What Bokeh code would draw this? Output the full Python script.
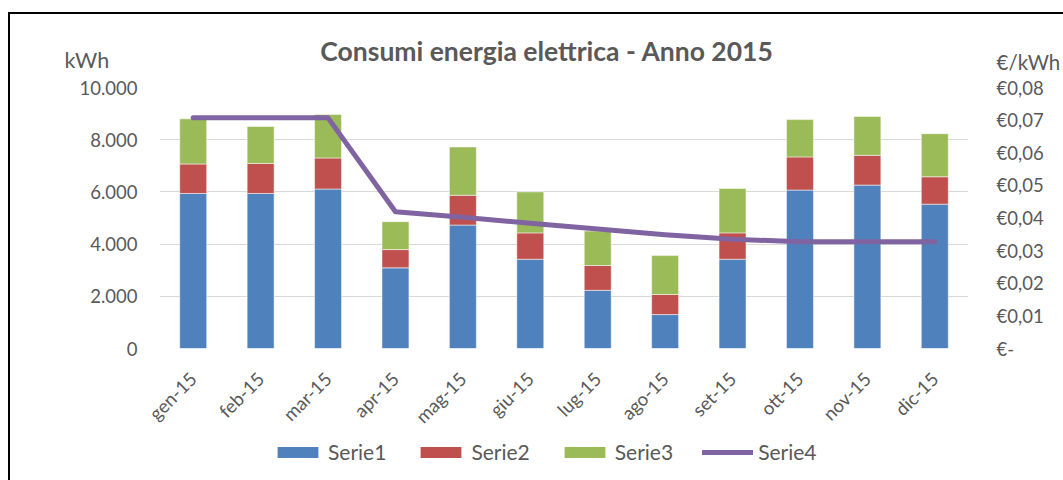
import math
from bokeh.plotting import figure
from bokeh.layouts import column
from bokeh.models import (ColumnDataSource, FactorRange, Range1d, LinearAxis, FixedTicker,
                          Legend, LegendItem, Label)
from bokeh.embed import file_html
from bokeh.resources import INLINE

months = ["gen-15", "feb-15", "mar-15", "apr-15", "mag-15", "giu-15",
          "lug-15", "ago-15", "set-15", "ott-15", "nov-15", "dic-15"]
serie1 = [5940, 5940, 6110, 3090, 4730, 3420, 2230, 1300, 3420, 6070, 6260, 5530]
serie2 = [1130, 1150, 1190, 700, 1140, 1010, 950, 770, 1010, 1270, 1140, 1050]
serie3 = [1730, 1420, 1670, 1070, 1850, 1570, 1320, 1490, 1700, 1430, 1490, 1650]
serie4 = [0.0707, 0.0707, 0.0707, 0.0419, 0.0402, 0.0384, 0.0366, 0.0349, 0.0335,
          0.0327, 0.0327, 0.0327]

left_ticks = [0, 2000, 4000, 6000, 8000, 10000]
left_tick_labels = ["0", "2.000", "4.000", "6.000", "8.000", "10.000"]
right_ticks = [0, 0.01, 0.02, 0.03, 0.04, 0.05, 0.06, 0.07, 0.08]
right_tick_labels = ["€-", "€0,01", "€0,02", "€0,03", "€0,04", "€0,05", "€0,06", "€0,07", "€0,08"]

title_text = "Consumi energia elettrica - Anno 2015"
left_unit = "kWh"
right_unit = "€/kWh"
series_names = ["Serie1", "Serie2", "Serie3", "Serie4"]
colors = ["#4F81BD", "#C0504D", "#9BBB59", "#8064A2"]

FONT = "Lato"
TXT = "#595959"

W = 1053
H_TOP, H_MAIN, H_LEG = 61, 363, 42


def no_align(f):
    try:
        f.frame_align = False
    except Exception:
        pass


def blank(h, **kw):
    f = figure(width=h[0], height=h[1], output_backend="svg", toolbar_location=None,
               title=None, x_axis_type=None, y_axis_type=None,
               min_border=0, min_border_left=0, min_border_right=0,
               min_border_top=0, min_border_bottom=0, **kw)
    f.grid.visible = False
    f.outline_line_color = None
    f.background_fill_color = "white"
    f.border_fill_color = "white"
    no_align(f)
    return f


src = ColumnDataSource(dict(months=months, s1=serie1, s2=serie2, s3=serie3, s4=serie4))

# ---------- top band: title and unit labels ----------
top = blank((W, H_TOP), x_range=Range1d(0, 1), y_range=Range1d(0, 1))
top.add_layout(Label(x=536.5, y=25, x_units="screen", y_units="screen", text=title_text,
                     text_font=FONT, text_font_style="bold", text_font_size="26.5px",
                     text_color=TXT, text_align="center", text_baseline="alphabetic"))
top.add_layout(Label(x=54, y=16, x_units="screen", y_units="screen", text=left_unit,
                     text_font=FONT, text_font_size="21.5px", text_color=TXT,
                     text_align="left", text_baseline="alphabetic"))
top.add_layout(Label(x=986, y=14, x_units="screen", y_units="screen", text=right_unit,
                     text_font=FONT, text_font_size="20.5px", text_color=TXT,
                     text_align="left", text_baseline="alphabetic"))

# ---------- main chart ----------
p = figure(x_range=FactorRange(*months), y_range=Range1d(0, 10000),
           width=W, height=H_MAIN, output_backend="svg", toolbar_location=None, title=None,
           min_border_left=149, min_border_right=95, min_border_top=12, min_border_bottom=89)
no_align(p)
p.extra_y_ranges = {"eur": Range1d(0, 0.08)}
p.outline_line_color = None
p.background_fill_color = "white"
p.border_fill_color = "white"

bars = p.vbar_stack(["s1", "s2", "s3"], x="months", width=0.4, color=colors[:3],
                    source=src, line_color="white", line_width=1, line_alpha=0.5)
ln = p.line(x="months", y="s4", source=src, y_range_name="eur", line_color=colors[3],
            line_width=5, line_join="round", line_cap="round")

ly = p.yaxis[0]
ly.ticker = FixedTicker(ticks=left_ticks)
ly.major_label_overrides = {t: l for t, l in zip(left_ticks, left_tick_labels)}

ra = LinearAxis(y_range_name="eur", ticker=FixedTicker(ticks=right_ticks))
ra.major_label_overrides = {t: l for t, l in zip(right_ticks, right_tick_labels)}
p.add_layout(ra, "right")

xa = p.xaxis[0]
xa.major_label_orientation = math.pi / 4

for ax, so, fs in [(ly, 16, "18.5px"), (ra, 22, "18.5px"), (xa, 21, "18.5px")]:
    ax.axis_line_color = None
    ax.major_tick_line_color = None
    ax.minor_tick_line_color = None
    ax.major_label_text_font = FONT
    ax.major_label_text_font_size = fs
    ax.major_label_text_color = TXT
    ax.major_label_standoff = so

p.xgrid.grid_line_color = None
p.ygrid.ticker = FixedTicker(ticks=left_ticks)
p.ygrid.grid_line_color = "#D9D9D9"
p.ygrid.grid_line_width = 1.2

# ---------- legend band (proxies lie far outside its visible y range) ----------
leg = blank((W, H_LEG), x_range=FactorRange(*months), y_range=Range1d(1e6, 1e6 + 1))
proxies = [leg.vbar(x="months", top=s, width=0.4, fill_color=c, line_color=None, source=src)
           for s, c in zip(["s1", "s2", "s3"], colors[:3])]
proxies.append(leg.line(x="months", y="s4", source=src, line_color=colors[3],
                        line_width=5, line_cap="round"))
items = [LegendItem(label=n, renderers=[r]) for n, r in zip(series_names, proxies)]
legend = Legend(items=items, orientation="horizontal", location=(262, 16),
                glyph_width=51, glyph_height=14, label_standoff=5, spacing=29,
                label_text_font=FONT, label_text_font_size="21px", label_text_color=TXT,
                border_line_color=None, background_fill_alpha=0, padding=0, margin=0)
leg.add_layout(legend, "center")

root = column(top, p, leg, spacing=0)
root.styles = {"margin-left": "8px", "margin-top": "12px",
               "border-left": "2px solid black", "border-top": "2px solid black"}

open("out.html", "w").write(file_html(root, INLINE))
